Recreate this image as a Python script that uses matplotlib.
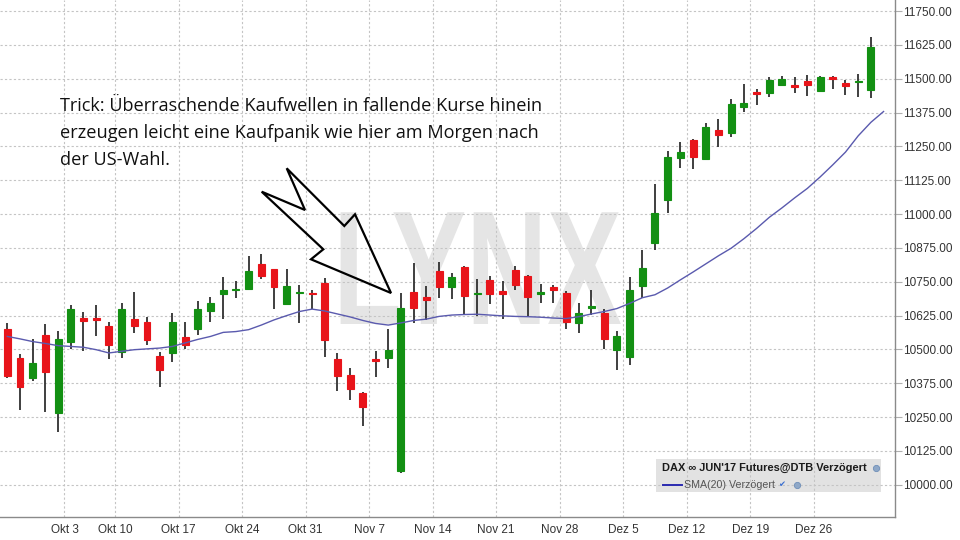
import matplotlib
matplotlib.use("Agg")
import matplotlib.pyplot as plt
from matplotlib.patches import Rectangle, Polygon
from matplotlib.patheffects import AbstractPathEffect
from matplotlib.transforms import Affine2D
import numpy as np

# daily OHLC, DAX future, one value per trading day (index 0 = first candle)
opens = [10576, 10467, 10396, 10554, 10266, 10529, 10615, 10615, 10587, 10489,
         10611, 10600, 10477, 10485, 10547, 10576, 10642, 10704, 10719, 10724,
         10815, 10796, 10669, 10708, 10709, 10745, 10463, 10406, 10338, 10463,
         10467, 10052, 10712, 10695, 10790, 10732, 10804, 10703, 10757, 10716,
         10794, 10772, 10705, 10730, 10708, 10597, 10652, 10636, 10499, 10471,
         10735, 10893, 11052, 11208, 11273, 11205, 11309, 11299, 11397, 11450,
         11448, 11478, 11478, 11492, 11456, 11505, 11484, 11488, 11457]
highs = [10597, 10482, 10539, 10593, 10568, 10665, 10639, 10665, 10600, 10672,
         10712, 10619, 10489, 10636, 10603, 10680, 10695, 10769, 10754, 10845,
         10851, 10798, 10796, 10738, 10720, 10765, 10488, 10430, 10344, 10494,
         10576, 10708, 10820, 10736, 10822, 10781, 10808, 10759, 10772, 10754,
         10808, 10774, 10742, 10738, 10716, 10671, 10720, 10649, 10569, 10767,
         10868, 11112, 11233, 11265, 11276, 11336, 11351, 11425, 11481, 11463,
         11506, 11512, 11508, 11514, 11512, 11511, 11496, 11517, 11653]
lows = [10395, 10276, 10385, 10270, 10196, 10501, 10496, 10550, 10464, 10467,
        10562, 10516, 10363, 10455, 10502, 10554, 10603, 10611, 10690, 10720,
        10759, 10649, 10667, 10597, 10649, 10473, 10347, 10314, 10218, 10397,
        10430, 10042, 10597, 10609, 10690, 10686, 10631, 10624, 10669, 10612,
        10720, 10621, 10673, 10671, 10575, 10560, 10627, 10501, 10424, 10442,
        10690, 10868, 11005, 11169, 11166, 11200, 11248, 11284, 11379, 11403,
        11434, 11474, 11447, 11437, 11453, 11463, 11441, 11432, 11429]
closes = [10403, 10363, 10451, 10416, 10539, 10649, 10606, 10609, 10517, 10648,
          10588, 10535, 10424, 10603, 10517, 10649, 10672, 10720, 10724, 10790,
          10772, 10732, 10736, 10713, 10704, 10533, 10402, 10353, 10287, 10458,
          10498, 10654, 10654, 10683, 10729, 10767, 10698, 10708, 10704, 10704,
          10738, 10695, 10714, 10720, 10603, 10633, 10661, 10538, 10550, 10720,
          10802, 11003, 11212, 11229, 11212, 11321, 11293, 11407, 11412, 11445,
          11496, 11499, 11471, 11478, 11506, 11500, 11475, 11493, 11616]

# SMA(20) as drawn in the chart (one extra point after the last candle)
sma20 = [10548, 10539, 10529, 10522, 10514, 10511, 10508, 10499, 10487, 10493,
         10499, 10502, 10505, 10511, 10524, 10537, 10548, 10563, 10566, 10573,
         10590, 10609, 10625, 10640, 10649, 10642, 10631, 10620, 10607, 10596,
         10590, 10598, 10607, 10612, 10622, 10627, 10629, 10630, 10627, 10624,
         10622, 10621, 10619, 10616, 10614, 10621, 10631, 10640, 10651, 10670,
         10691, 10702, 10727, 10757, 10786, 10816, 10846, 10874, 10909, 10947,
         10988, 11023, 11060, 11095, 11137, 11182, 11229, 11289, 11339, 11379]

# first candle of each week and its label
week_start = [5, 9, 14, 19, 24, 29, 34, 39, 44, 49, 54, 59, 64]
week_labels = ["Okt 3", "Okt 10", "Okt 17", "Okt 24", "Okt 31", "Nov 7", "Nov 14",
               "Nov 21", "Nov 28", "Dez 5", "Dez 12", "Dez 19", "Dez 26"]
price_ticks = list(range(10000, 11751, 125))

note_lines = ["Trick: Überraschende Kaufwellen in fallende Kurse hinein",
              "erzeugen leicht eine Kaufpanik wie hier am Morgen nach",
              "der US-Wahl."]


class SqueezeX(AbstractPathEffect):
    # narrows the glyphs horizontally around x = cx (display pixels)
    def __init__(self, sx, cx):
        super().__init__()
        self.sx = sx
        self.cx = cx

    def draw_path(self, renderer, gc, tpath, affine, rgbFace=None):
        t = affine + Affine2D().translate(-self.cx, 0).scale(self.sx, 1).translate(self.cx, 0)
        renderer.draw_path(gc, tpath, t, rgbFace)


W, H = 960, 540
AX_R, AX_B = 895, 516.7  # right spine / bottom spine in pixels

fig = plt.figure(figsize=(9.6, 5.4), dpi=100)
fig.patch.set_facecolor("white")
ax = fig.add_axes([0, 1 - AX_B / H, AX_R / W, AX_B / H])


def fx(x):
    return x / W


def fy(y):
    return 1 - y / H


def axp(x, y):
    return x / AX_R, (AX_B - y) / AX_B


GREEN = "#139013"
RED = "#e8141a"
idx = np.arange(len(opens))
o = np.array(opens)
c = np.array(closes)
up = c >= o
colors = np.where(up, GREEN, RED)

ax.vlines(idx, lows, highs, color="#303030", lw=1.3, zorder=2)
ax.bar(idx, np.abs(c - o), bottom=np.minimum(o, c), width=0.55,
       color=colors, edgecolor=colors, linewidth=0.8, zorder=3)
ax.plot(np.arange(len(sma20)), sma20, color="#5a5aae", lw=1.0, zorder=4)

ax.set_xlim(-0.575, 69.9)
ax.set_ylim(9882, 11791)

ax.set_xticks([w - 0.5 for w in week_start])
ax.set_xticklabels(week_labels)
ax.set_yticks(price_ticks)
ax.set_yticklabels([f"{v:.2f}" for v in price_ticks])
ax.yaxis.tick_right()
ax.tick_params(axis="x", length=0, pad=5, labelsize=8.5, labelcolor="#333333")
ax.tick_params(axis="y", length=5, width=0.8, color="#b0b0b0", pad=0.5,
               labelsize=8.5, labelcolor="#333333")
for lab in ax.get_xticklabels() + ax.get_yticklabels():
    lab.set_family("Liberation Sans")

ax.set_axisbelow(True)
ax.grid(True, color="#c4c4c4", lw=0.8, linestyle=(0, (2, 2)))
for s in ["top", "left"]:
    ax.spines[s].set_visible(False)
for s in ["right", "bottom"]:
    ax.spines[s].set_color("#8a8a8a")
    ax.spines[s].set_linewidth(1.0)

# watermark
wm_x, wm_base = 477.5, 324
ax.text(*axp(wm_x, wm_base), "LYNX", transform=ax.transAxes, ha="center",
        va="baseline", fontsize=117, fontweight="bold", family="Liberation Sans",
        color="#e5e5e5", zorder=0.2, path_effects=[SqueezeX(0.69, wm_x)])

# legend box
lx, ly = axp(656, 492)
ax.add_patch(Rectangle((lx, ly), (881 - 656) / AX_R, (492 - 459) / AX_B,
                       transform=ax.transAxes, facecolor="#e2e2e2",
                       edgecolor="none", zorder=0.3))
fig.text(fx(662), fy(468), "DAX \u221e JUN'17 Futures@DTB Verzögert",
         family=["Liberation Sans", "DejaVu Sans"], fontweight="bold",
         fontsize=7.9, color="#1a1a1a", va="center", ha="left", zorder=6)
fig.lines.append(plt.Line2D([fx(663), fx(682)], [fy(485), fy(485)],
                            transform=fig.transFigure, color="#2b2bb0", lw=1.4))
fig.text(fx(684), fy(485), "SMA(20) Verzögert", family="Liberation Sans",
         fontsize=7.7, color="#555555", va="center", ha="left", zorder=6)
fig.text(fx(782), fy(485), "\u2714", family="DejaVu Sans", fontsize=6,
         color="#3a6fd0", va="center", ha="center", zorder=6)
for gx, gy in [(797, 485), (876, 468)]:
    fig.lines.append(plt.Line2D([fx(gx)], [fy(gy)], transform=fig.transFigure,
                                marker="o", markersize=4.5, color="#8fa8c8",
                                markeredgecolor="#6f8fb8", markeredgewidth=0.6))

# arrow pointing at the Nov 9 candle
arrow_px = [(286.7, 168.3), (305, 210), (261.7, 191.7), (323.3, 249.3),
            (311, 259.3), (391, 293), (355, 214.3), (344.3, 226)]
fig.patches.append(Polygon([(fx(x), fy(y)) for x, y in arrow_px], closed=True,
                           transform=fig.transFigure, fill=False,
                           edgecolor="black", lw=1.6, joinstyle="miter"))

# note text
for k, line in enumerate(note_lines):
    fig.text(fx(60), fy(111 + 27 * k), line, family=["Open Sans", "DejaVu Sans"],
             fontsize=13.1, color="#111111", va="baseline", ha="left")

fig.savefig("out.png", dpi=100, facecolor="white")
